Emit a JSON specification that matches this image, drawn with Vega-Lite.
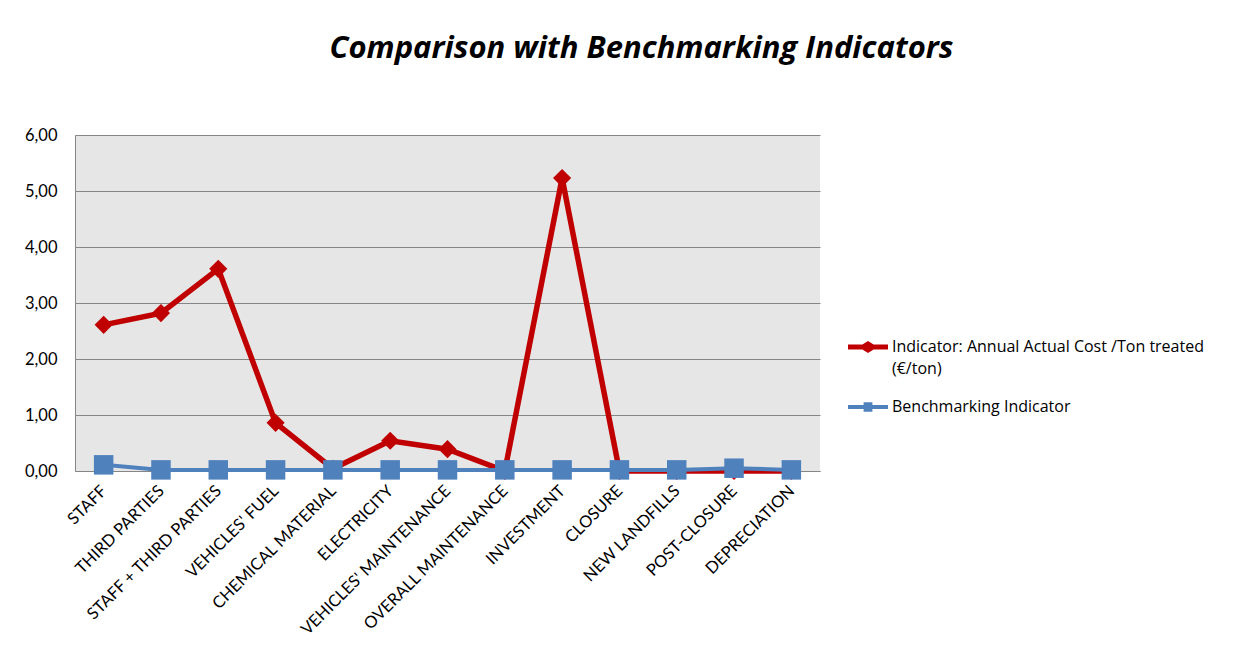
{
  "$schema": "https://vega.github.io/schema/vega-lite/v6.json",
  "autosize": {"type": "none"},
  "width": 745,
  "height": 336,
  "padding": {"left": 75, "top": 135, "right": 438, "bottom": 193},
  "background": "white",
  "title": {
    "text": "Comparison with Benchmarking Indicators",
    "font": "Open Sans",
    "fontSize": 31,
    "fontWeight": "bold",
    "fontStyle": "italic",
    "color": "#000000",
    "anchor": "middle",
    "dx": 194,
    "offset": 62
  },
  "data": {
    "values": [
      {"cat": "STAFF", "series": "Indicator: Annual Actual Cost /Ton treated (€/ton)", "value": 2.61},
      {"cat": "THIRD PARTIES", "series": "Indicator: Annual Actual Cost /Ton treated (€/ton)", "value": 2.82},
      {"cat": "STAFF + THIRD PARTIES", "series": "Indicator: Annual Actual Cost /Ton treated (€/ton)", "value": 3.61},
      {"cat": "VEHICLES' FUEL", "series": "Indicator: Annual Actual Cost /Ton treated (€/ton)", "value": 0.86},
      {"cat": "CHEMICAL MATERIAL", "series": "Indicator: Annual Actual Cost /Ton treated (€/ton)", "value": 0.04},
      {"cat": "ELECTRICITY", "series": "Indicator: Annual Actual Cost /Ton treated (€/ton)", "value": 0.54},
      {"cat": "VEHICLES' MAINTENANCE", "series": "Indicator: Annual Actual Cost /Ton treated (€/ton)", "value": 0.39},
      {"cat": "OVERALL MAINTENANCE", "series": "Indicator: Annual Actual Cost /Ton treated (€/ton)", "value": 0.0},
      {"cat": "INVESTMENT", "series": "Indicator: Annual Actual Cost /Ton treated (€/ton)", "value": 5.23},
      {"cat": "CLOSURE", "series": "Indicator: Annual Actual Cost /Ton treated (€/ton)", "value": 0.0},
      {"cat": "NEW LANDFILLS", "series": "Indicator: Annual Actual Cost /Ton treated (€/ton)", "value": 0.0},
      {"cat": "POST-CLOSURE", "series": "Indicator: Annual Actual Cost /Ton treated (€/ton)", "value": 0.0},
      {"cat": "DEPRECIATION", "series": "Indicator: Annual Actual Cost /Ton treated (€/ton)", "value": 0.0},
      {"cat": "STAFF", "series": "Benchmarking Indicator", "value": 0.11},
      {"cat": "THIRD PARTIES", "series": "Benchmarking Indicator", "value": 0.02},
      {"cat": "STAFF + THIRD PARTIES", "series": "Benchmarking Indicator", "value": 0.02},
      {"cat": "VEHICLES' FUEL", "series": "Benchmarking Indicator", "value": 0.02},
      {"cat": "CHEMICAL MATERIAL", "series": "Benchmarking Indicator", "value": 0.02},
      {"cat": "ELECTRICITY", "series": "Benchmarking Indicator", "value": 0.02},
      {"cat": "VEHICLES' MAINTENANCE", "series": "Benchmarking Indicator", "value": 0.02},
      {"cat": "OVERALL MAINTENANCE", "series": "Benchmarking Indicator", "value": 0.02},
      {"cat": "INVESTMENT", "series": "Benchmarking Indicator", "value": 0.02},
      {"cat": "CLOSURE", "series": "Benchmarking Indicator", "value": 0.02},
      {"cat": "NEW LANDFILLS", "series": "Benchmarking Indicator", "value": 0.02},
      {"cat": "POST-CLOSURE", "series": "Benchmarking Indicator", "value": 0.05},
      {"cat": "DEPRECIATION", "series": "Benchmarking Indicator", "value": 0.02}
    ]
  },
  "encoding": {
    "x": {
      "field": "cat",
      "type": "nominal",
      "sort": null,
      "scale": {"type": "point", "padding": 0.5},
      "axis": {
        "title": null,
        "labelAngle": -45,
        "labelAlign": "right",
        "labelBaseline": "middle",
        "labelFont": "Lato",
        "labelFontSize": 16.5,
        "labelColor": "#000000",
        "labelPadding": 17,
        "labelLimit": 400,
        "labelOverlap": false,
        "ticks": false,
        "domainColor": "#868686",
        "domainWidth": 1,
        "grid": false
      }
    },
    "y": {
      "field": "value",
      "type": "quantitative",
      "scale": {"domain": [0, 6], "nice": false},
      "axis": {
        "title": null,
        "values": [0, 1, 2, 3, 4, 5, 6],
        "labelExpr": "replace(format(datum.value, '.2f'), '.', ',')",
        "labelFont": "Lato",
        "labelFontSize": 16.5,
        "labelColor": "#000000",
        "labelPadding": 18,
        "ticks": false,
        "domainColor": "#868686",
        "gridColor": "#868686",
        "gridWidth": 1,
        "gridOpacity": 1
      }
    },
    "color": {
      "field": "series",
      "type": "nominal",
      "sort": ["Indicator: Annual Actual Cost /Ton treated (€/ton)", "Benchmarking Indicator"],
      "scale": {
        "domain": ["Indicator: Annual Actual Cost /Ton treated (€/ton)", "Benchmarking Indicator"],
        "range": ["#c00000", "#4f81bd"]
      },
      "legend": {
        "title": null,
        "orient": "none",
        "legendX": 773,
        "legendY": 192,
        "labelFont": "Open Sans",
        "labelFontSize": 16,
        "labelColor": "#000000",
        "labelLimit": 400,
        "labelOffset": 4,
        "rowPadding": 10,
        "symbolSize": 1600,
        "symbolStrokeWidth": 0,
        "labelExpr": "datum.label == 'Benchmarking Indicator' ? datum.label : ['Indicator: Annual Actual Cost /Ton treated', '(€/ton)']",
        "encode": {
          "labels": {
            "update": {"lineHeight": {"value": 22}}
          },
          "symbols": {
            "update": {
              "shape": {"signal": "datum.value == 'Benchmarking Indicator' ? 'M-1,-0.1L-0.22,-0.1L-0.22,-0.24L0.22,-0.24L0.22,-0.1L1,-0.1L1,0.1L0.22,0.1L0.22,0.24L-0.22,0.24L-0.22,0.1L-1,0.1Z' : 'M-1,-0.12L-0.28,-0.12L0,-0.3L0.28,-0.12L1,-0.12L1,0.12L0.28,0.12L0,0.3L-0.28,0.12L-1,0.12Z'"},
              "fill": {"signal": "datum.value == 'Benchmarking Indicator' ? '#4f81bd' : '#c00000'"},
              "fillOpacity": {"value": 1},
              "strokeWidth": {"value": 0}
            }
          }
        }
      }
    }
  },
  "layer": [
    {
      "transform": [{"filter": "datum.series != 'Benchmarking Indicator'"}],
      "mark": {"type": "line", "strokeWidth": 5.5, "point": {"shape": "diamond", "size": 330, "filled": true, "opacity": 1}}
    },
    {
      "transform": [{"filter": "datum.series == 'Benchmarking Indicator'"}],
      "mark": {"type": "line", "strokeWidth": 4, "point": {"shape": "square", "size": 380, "filled": true, "opacity": 1}}
    }
  ],
  "config": {
    "view": {"fill": "#e6e6e6", "stroke": null}
  }
}
